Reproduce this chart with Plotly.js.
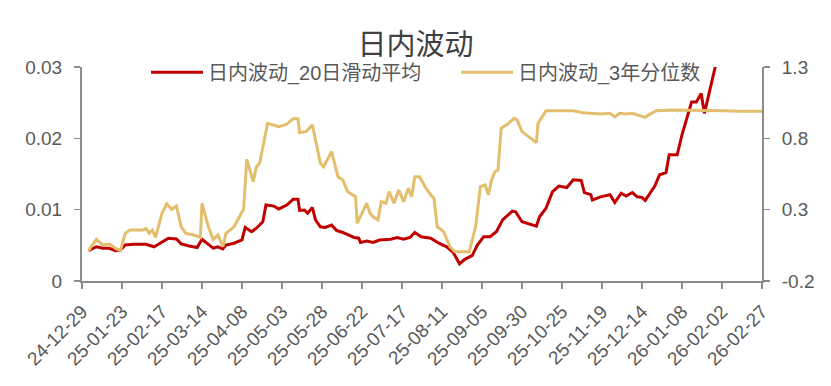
<!DOCTYPE html>
<html>
<head>
<meta charset="utf-8">
<script src="https://cdn.plot.ly/plotly-3.0.1.min.js"></script>
<style>html,body{margin:0;padding:0;background:#fff;}#chart{width:831px;height:386px;}</style>
</head>
<body>
<div id="chart"></div>
<script>
const chartTitle = '日内波动';
const seriesNames = ['日内波动_20日滑动平均', '日内波动_3年分位数'];

const tickDates = ['2024-12-29','2025-01-23','2025-02-17','2025-03-14','2025-04-08','2025-05-03','2025-05-28','2025-06-22','2025-07-17','2025-08-11','2025-09-05','2025-09-30','2025-10-25','2025-11-19','2025-12-14','2026-01-08','2026-02-02','2026-02-27'];
const tickLabels = ['24-12-29','25-01-23','25-02-17','25-03-14','25-04-08','25-05-03','25-05-28','25-06-22','25-07-17','25-08-11','25-09-05','25-09-30','25-10-25','25-11-19','25-12-14','26-01-08','26-02-02','26-02-27'];

const maDates = ['2025-01-02','2025-01-07','2025-01-11','2025-01-15','2025-01-19','2025-01-22','2025-01-25','2025-01-30','2025-02-07','2025-02-12','2025-02-14','2025-02-18','2025-02-21','2025-02-26','2025-03-01','2025-03-06','2025-03-11','2025-03-14','2025-03-17','2025-03-21','2025-03-24','2025-03-27','2025-03-29','2025-04-03','2025-04-08','2025-04-10','2025-04-14','2025-04-17','2025-04-21','2025-04-23','2025-04-28','2025-05-01','2025-05-06','2025-05-10','2025-05-13','2025-05-14','2025-05-17','2025-05-19','2025-05-22','2025-05-24','2025-05-27','2025-05-30','2025-06-03','2025-06-06','2025-06-10','2025-06-17','2025-06-20','2025-06-21','2025-06-25','2025-06-29','2025-07-03','2025-07-10','2025-07-14','2025-07-18','2025-07-22','2025-07-25','2025-07-29','2025-08-04','2025-08-09','2025-08-14','2025-08-18','2025-08-22','2025-08-25','2025-08-30','2025-09-02','2025-09-06','2025-09-10','2025-09-14','2025-09-18','2025-09-24','2025-09-26','2025-09-30','2025-10-09','2025-10-11','2025-10-15','2025-10-19','2025-10-23','2025-10-28','2025-11-01','2025-11-06','2025-11-08','2025-11-12','2025-11-13','2025-11-18','2025-11-24','2025-11-27','2025-12-01','2025-12-04','2025-12-08','2025-12-11','2025-12-14','2025-12-16','2025-12-19','2025-12-22','2025-12-25','2025-12-29','2025-12-31','2026-01-05','2026-01-08','2026-01-11','2026-01-14','2026-01-17','2026-01-20','2026-01-22','2026-01-26','2026-01-27','2026-01-29','2026-01-30'];
const maValues = [0.00425,0.0048,0.00458,0.00458,0.00425,0.00435,0.00505,0.00515,0.00515,0.0048,0.00505,0.00565,0.006,0.0059,0.0052,0.0049,0.0047,0.00585,0.0053,0.0046,0.0048,0.0045,0.00505,0.0053,0.00575,0.0075,0.0069,0.0074,0.0083,0.01065,0.0105,0.0101,0.01065,0.01145,0.01145,0.0099,0.00995,0.0095,0.0103,0.00855,0.0076,0.0075,0.00785,0.0071,0.0068,0.0061,0.006,0.0054,0.0056,0.0054,0.00575,0.00585,0.0061,0.00585,0.0061,0.0068,0.0062,0.006,0.0053,0.0048,0.004,0.0024,0.003,0.0036,0.005,0.0062,0.0062,0.0069,0.0086,0.0098,0.0097,0.0083,0.0077,0.009,0.0102,0.0125,0.0133,0.0131,0.0142,0.0141,0.0124,0.0121,0.01135,0.0118,0.0121,0.011,0.0123,0.0119,0.0124,0.0118,0.0117,0.0113,0.0123,0.0133,0.0149,0.0152,0.0177,0.0177,0.0205,0.0228,0.0251,0.0251,0.0263,0.0235,0.0272,0.0282,0.0298,0.0312];

const pctDates = ['2025-01-02','2025-01-07','2025-01-11','2025-01-15','2025-01-19','2025-01-22','2025-01-25','2025-01-28','2025-02-05','2025-02-07','2025-02-09','2025-02-11','2025-02-13','2025-02-17','2025-02-20','2025-02-23','2025-02-26','2025-03-01','2025-03-04','2025-03-09','2025-03-13','2025-03-14','2025-03-18','2025-03-21','2025-03-24','2025-03-27','2025-03-29','2025-04-03','2025-04-07','2025-04-09','2025-04-11','2025-04-15','2025-04-17','2025-04-19','2025-04-24','2025-05-01','2025-05-06','2025-05-10','2025-05-13','2025-05-14','2025-05-18','2025-05-22','2025-05-27','2025-05-29','2025-06-03','2025-06-05','2025-06-07','2025-06-10','2025-06-13','2025-06-18','2025-06-19','2025-06-22','2025-06-25','2025-06-27','2025-06-29','2025-07-02','2025-07-04','2025-07-07','2025-07-09','2025-07-12','2025-07-15','2025-07-18','2025-07-21','2025-07-23','2025-07-25','2025-07-28','2025-08-01','2025-08-04','2025-08-06','2025-08-08','2025-08-12','2025-08-16','2025-08-19','2025-08-28','2025-09-01','2025-09-04','2025-09-07','2025-09-09','2025-09-11','2025-09-13','2025-09-15','2025-09-17','2025-09-21','2025-09-25','2025-09-27','2025-09-30','2025-10-09','2025-10-10','2025-10-13','2025-10-15','2025-10-24','2025-11-01','2025-11-07','2025-11-18','2025-11-24','2025-11-27','2025-11-30','2025-12-04','2025-12-08','2025-12-11','2025-12-14','2025-12-16','2025-12-19','2025-12-23','2026-01-03','2026-01-22','2026-02-03','2026-02-13','2026-02-24','2026-02-27'];
const pctValues = [0.0125,0.092,0.052,0.059,0.029,0.0125,0.134,0.157,0.157,0.169,0.134,0.157,0.106,0.275,0.34,0.303,0.326,0.18,0.134,0.122,0.106,0.345,0.18,0.092,0.122,0.04,0.134,0.18,0.263,0.303,0.653,0.496,0.601,0.625,0.905,0.882,0.9,0.938,0.938,0.84,0.847,0.894,0.625,0.601,0.706,0.625,0.531,0.508,0.426,0.391,0.204,0.275,0.345,0.275,0.25,0.228,0.356,0.345,0.426,0.345,0.438,0.356,0.45,0.391,0.531,0.531,0.45,0.403,0.38,0.18,0.146,0.04,0.005,0.005,0.18,0.461,0.473,0.403,0.508,0.566,0.578,0.87,0.9,0.94,0.928,0.847,0.77,0.905,0.963,0.994,0.994,0.994,0.98,0.97,0.975,0.95,0.975,0.97,0.975,0.963,0.95,0.947,0.97,0.994,0.998,0.998,0.994,0.99,0.987,0.99];

const leftTicks = [0, 0.01, 0.02, 0.03];
const rightTicks = [-0.2, 0.3, 0.8, 1.3];
const rightTickLabels = ['-0.2', '0.3', '0.8', '1.3'];

const FONT = 'Arial, "Liberation Sans", "Noto Sans CJK SC", sans-serif';
const TXT = '#595959';
const AX = '#8c8c8c';

const traces = [
  {x: maDates, y: maValues, name: seriesNames[0], type: 'scatter', mode: 'lines', yaxis: 'y',
   line: {color: '#C00000', width: 3}},
  {x: pctDates, y: pctValues, name: seriesNames[1], type: 'scatter', mode: 'lines', yaxis: 'y2',
   line: {color: '#E3BE6C', width: 3}}
];

const layout = {
  width: 831, height: 386,
  margin: {l: 82, r: 69, t: 67, b: 105},
  paper_bgcolor: '#fff', plot_bgcolor: '#fff',
  font: {family: FONT, color: TXT},
  title: {text: chartTitle, x: 0.5, xanchor: 'center', y: 0.885, yanchor: 'middle',
          font: {family: FONT, size: 29, color: '#404040'}},
  showlegend: true,
  legend: {orientation: 'h', x: 0.55, xanchor: 'center', y: 0.975, yanchor: 'middle',
           font: {family: FONT, size: 20, color: TXT}, bgcolor: 'rgba(0,0,0,0)', itemwidth: 52,
           entrywidth: 243},
  xaxis: {type: 'date', range: ['2024-12-29', '2026-02-27'], tickvals: tickDates, ticktext: tickLabels,
          tickangle: -45, tickfont: {family: FONT, size: 19, color: TXT},
          showgrid: false, zeroline: false, showline: true, linecolor: AX, linewidth: 2,
          ticks: 'outside', ticklen: 6, tickcolor: AX, tickwidth: 1.5, ticklabelstandoff: 4, fixedrange: true},
  yaxis: {range: [0, 0.03], tickvals: leftTicks, tickfont: {family: FONT, size: 19, color: TXT},
          showgrid: false, zeroline: false, showline: true, linecolor: AX, linewidth: 2,
          ticks: 'outside', ticklen: 6, tickcolor: AX, tickwidth: 1.5, ticklabelstandoff: 8},
  yaxis2: {range: [-0.2, 1.3], tickvals: rightTicks, ticktext: rightTickLabels, overlaying: 'y', side: 'right',
           tickfont: {family: FONT, size: 19, color: TXT},
           showgrid: false, zeroline: false, showline: true, linecolor: AX, linewidth: 2,
           ticks: 'outside', ticklen: 6, tickcolor: AX, tickwidth: 1.5, ticklabelstandoff: 8}
};

Plotly.newPlot('chart', traces, layout, {displayModeBar: false, staticPlot: true});
</script>
</body>
</html>
